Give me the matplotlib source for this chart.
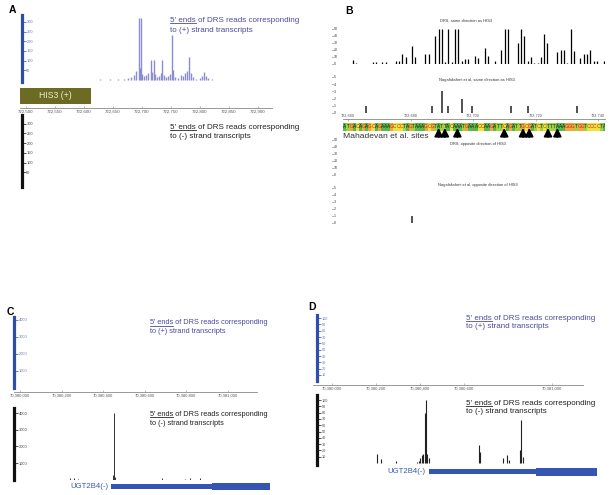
import matplotlib
matplotlib.use("Agg")
import matplotlib.pyplot as plt
from matplotlib.patches import Rectangle
from matplotlib.lines import Line2D

plt.rcParams['font.family'] = ['Liberation Sans', 'DejaVu Sans']

# ---------------- data ----------------
# A: HIS3 locus, DRS 5' end counts, (+) strand
a_pos = [722628, 722645, 722659, 722669, 722676, 722681, 722686, 722690, 722694, 722696,
         722698, 722700, 722703, 722707, 722710, 722715, 722717, 722720, 722722, 722726,
         722729, 722732, 722735, 722738, 722741, 722745, 722748, 722751, 722753, 722757,
         722762, 722767, 722771, 722774, 722778, 722781, 722784, 722788, 722793, 722800,
         722803, 722807, 722810, 722814, 722821]
a_cnt = [5, 3, 6, 8, 12, 18, 25, 45, 320, 60,
         320, 30, 20, 25, 35, 103, 40, 102, 30, 18,
         22, 35, 103, 25, 15, 20, 30, 232, 50, 15,
         10, 25, 20, 35, 45, 120, 35, 15, 8, 12,
         22, 43, 20, 10, 4]
a_ticks = [722500, 722550, 722600, 722650, 722700, 722750, 722800, 722850, 722900]
a_yticks = [50, 100, 150, 200, 250, 300]
his3_gene = (722490, 722612)

# B: zoom on HIS3 5' region
b_drs_pos = [722662, 722663, 722668, 722669, 722671, 722672, 722675, 722676, 722677, 722678,
             722680, 722681, 722684, 722685, 722687, 722688, 722689, 722690, 722691, 722692,
             722693, 722694, 722695, 722696, 722697, 722699, 722700, 722702, 722703, 722705,
             722707, 722708, 722709, 722712, 722713, 722714, 722715, 722716, 722717, 722718,
             722719, 722720, 722721, 722724, 722725, 722726, 722727, 722728, 722729, 722731,
             722732, 722733, 722734, 722735, 722736, 722738]
b_drs_cnt = [5, 1, 2, 2, 2, 2, 3, 4, 13, 10,
             25, 9, 13, 13, 40, 50, 50, 2, 50, 2,
             50, 50, 3, 6, 7, 11, 8, 22, 11, 3,
             19, 50, 50, 30, 50, 40, 3, 9, 1, 1,
             9, 42, 30, 16, 20, 20, 1, 50, 18, 8,
             13, 13, 20, 3, 4, 4]
b_nag_pos = [722666, 722686, 722689, 722691, 722695, 722698, 722710, 722715, 722730]
b_nag_cnt = [1, 1, 3, 1, 2, 1, 1, 1, 1]
b_nag_opp_pos = [722680]
b_nag_opp_cnt = [1]
b_ticks = [722660, 722680, 722700, 722720, 722740]
b_seq_start = 722659
b_seq = "ATGACAGAGCAGAAAGCCCTAGTAAAGCGTATTACAAATGAAACCAAGATTCAGATTGCGATCTCTTTAAAGGGTGGTCCCCTA"
b_sites = [722689, 722691, 722695, 722710, 722716, 722718, 722724, 722727]

# C / D: UGT2B4 locus
ugt_ticks_c = [70380000, 70380200, 70380400, 70380600, 70380800, 70381000]
ugt_ticks_d = [70380000, 70380200, 70380400, 70380600, 70381000]
ugt_gene = (70380440, 70380927, 70381205)  # start, end of thin part, end
c_pos = [70380241, 70380260, 70380280, 70380446, 70380453, 70380460, 70380684, 70380795, 70380819, 70380867]
c_cnt = [120, 90, 70, 300, 4000, 150, 90, 70, 110, 130]
c_yticks = [1000, 2000, 3000, 4000]
d_pos = [70380206, 70380222, 70380291, 70380386, 70380395, 70380400, 70380408, 70380416, 70380423,
         70380428, 70380434, 70380440, 70380669, 70380674, 70380780, 70380795, 70380806,
         70380856, 70380862, 70380868]
d_cnt = [14, 6, 3, 2, 3, 8, 12, 14, 80,
         100, 15, 8, 29, 18, 8, 12, 5,
         20, 68, 10]
d_yticks = [10, 20, 30, 40, 50, 60, 70, 80, 90, 100]

# ---------------- layout helpers ----------------
W, H = 612, 495
fig = plt.figure(figsize=(6.12, 4.95), dpi=100)

BLUE = '#2e4ea8'
PURPLE_TXT = '#4b4ba0'
LIGHT_BLUE_TXT = '#6a78bd'

# (pixel, coordinate, pixels per base) for each panel
MAP_A = (26, 722500, 0.58)
MAP_BT = (352.7, 722662, 3.3)
MAP_BS = (348, 722660, 3.125)
MAP_C = (20, 70380000, 0.2075)
MAP_D = (332, 70380000, 0.2197)


def px_axes(x0, y0, x1, y1, ref=None):
    ax = fig.add_axes([x0 / W, 1 - y1 / H, (x1 - x0) / W, (y1 - y0) / H])
    ax.patch.set_alpha(0)
    for s in ax.spines.values():
        s.set_visible(False)
    ax.set_xticks([])
    ax.set_yticks([])
    if ref is not None:
        p0, c0, k = ref
        ax.set_xlim(c0 + (x0 - p0) / k, c0 + (x1 - p0) / k)
    return ax


def count_axis(ax, ticks, bar_color, lab_color, bar=True, size=2.9, pad=-3.5):
    sp = ax.spines['left']
    sp.set_visible(bar)
    sp.set_color(bar_color)
    sp.set_linewidth(2.3)
    ax.set_yticks(ticks)
    ax.set_yticklabels([str(t) for t in ticks])
    ax.tick_params(axis='y', direction='in', length=3.2 if bar else 1.0, width=0.5,
                   color=bar_color, labelcolor=lab_color, labelsize=size, pad=pad)
    for lab in ax.get_yticklabels():
        lab.set_horizontalalignment('left')


def genome_axis(ax, ticks, size=3.2, top=False):
    sp = ax.spines['top' if top else 'bottom']
    sp.set_visible(True)
    sp.set_color('#888888')
    sp.set_linewidth(0.6)
    ax.set_xticks(ticks)
    ax.set_xticklabels([f'{t:,}' for t in ticks])
    if top:
        ax.xaxis.tick_top()
    ax.tick_params(axis='x', direction='in', length=1.5, width=0.4, color='#888888',
                   labelcolor='#555555', labelsize=size, pad=1.2)


def ends_label(x, y, strand, color, size, gap):
    r = fig.canvas.get_renderer()
    fig.text(x / W, 1 - y / H, "5' ends of DRS reads corresponding", color=color,
             fontsize=size, va='baseline')
    tmp = fig.text(x / W, 1 - y / H, "5' ends", fontsize=size, va='baseline')
    bb = tmp.get_window_extent(r)
    tmp.remove()
    fig.add_artist(Line2D([bb.x0 / W, bb.x1 / W], [(H - y - 1.3) / H] * 2, color=color, lw=0.6))
    fig.text(x / W, 1 - (y + gap) / H, f"to ({strand}) strand transcripts", color=color,
             fontsize=size, va='baseline')


def panel_letter(x, y, s):
    fig.text(x / W, 1 - y / H, s, fontsize=7.5, fontweight='bold', ha='center', va='center')


# ---------------- panel A ----------------
panel_letter(12, 10, 'A')
ax = px_axes(21.5, 15, 272, 82, MAP_A)
ax.set_ylim(-10, 335)
ax.vlines(a_pos, 0, a_cnt, color='#8c8cd0', lw=1.0)
count_axis(ax, a_yticks, BLUE, LIGHT_BLUE_TXT)
ends_label(170, 22, '+', PURPLE_TXT, 5.8, 10)

ax = px_axes(20, 86, 272, 108, MAP_A)
ax.set_ylim(0, 22)
ax.add_patch(Rectangle((his3_gene[0], 4), his3_gene[1] - his3_gene[0], 16, color='#6b6b23', lw=0))
ax.text(sum(his3_gene) / 2, 12, 'HIS3 (+)', color='#ececd4', fontsize=6.3, ha='center', va='center')
genome_axis(ax, a_ticks, size=3.2)

ax = px_axes(21.5, 115, 272, 187, MAP_A)
ax.set_ylim(-26, 345)
count_axis(ax, a_yticks, '#111111', '#444444')
ends_label(170, 129, '-', '#222222', 5.8, 9.5)

# ---------------- panel B ----------------
panel_letter(349, 11, 'B')
track_txt = dict(fontsize=2.9, color='#333333', ha='center', va='center')

ax = px_axes(332, 24, 605, 63.5, MAP_BT)
ax.set_ylim(0, 57)
ax.vlines(b_drs_pos, 0, b_drs_cnt, color='black', lw=0.9)
count_axis(ax, [0, 10, 20, 30, 40, 50], '#333333', '#333333', bar=False, size=2.6, pad=-1.5)
fig.text(466 / W, 1 - 20.7 / H, 'DRS, same direction as HIS3', **track_txt)

ax = px_axes(332, 74, 605, 113, MAP_BT)
ax.set_ylim(0, 5.4)
ax.vlines(b_nag_pos, 0, b_nag_cnt, color='#222222', lw=1.1)
count_axis(ax, [0, 1, 2, 3, 4, 5], '#333333', '#333333', bar=False, size=2.6, pad=-1.5)
fig.text(477 / W, 1 - 80 / H, 'Nagalakshmi et al, same direction as HIS3', **track_txt)

ax = px_axes(343, 119, 605, 131, MAP_BS)
ax.set_ylim(0, 12)
genome_axis(ax, b_ticks, size=2.8, top=True)
seq_bg = {'A': '#5bb846', 'T': '#9fd23e', 'C': '#f1e23a', 'G': '#f2a83c'}
seq_fg = {'A': '#1a1a1a', 'T': '#1a1a1a', 'C': '#b52a20', 'G': '#b52a20'}
for i, base in enumerate(b_seq):
    p = b_seq_start + i
    ax.add_patch(Rectangle((p - 0.5, 0), 1, 8, color=seq_bg[base], lw=0))
    ax.text(p, 4, base, fontsize=3.4, ha='center', va='center', color=seq_fg[base], clip_on=True)
for s in b_sites:
    ax.annotate('', xy=(s, 3), xytext=(s, -6),
                arrowprops=dict(arrowstyle='-|>,head_length=0.6,head_width=0.3', color='black',
                                lw=1.3, shrinkA=0, shrinkB=0, mutation_scale=8),
                annotation_clip=False)
fig.text(343 / W, 1 - 136 / H, 'Mahadevan et al. sites', fontsize=6.1, color='#333333',
         ha='left', va='center')

ax = px_axes(332, 137, 605, 175, MAP_BT)
ax.set_ylim(0, 54)
count_axis(ax, [0, 10, 20, 30, 40, 50], '#333333', '#333333', bar=False, size=2.6, pad=-1.5)
fig.text(478 / W, 1 - 144 / H, 'DRS, opposite direction of HIS3', **track_txt)

ax = px_axes(332, 185, 605, 223, MAP_BT)
ax.set_ylim(0, 5.4)
ax.vlines(b_nag_opp_pos, 0, b_nag_opp_cnt, color='#222222', lw=1.1)
count_axis(ax, [0, 1, 2, 3, 4, 5], '#333333', '#333333', bar=False, size=2.6, pad=-1.5)
fig.text(478 / W, 1 - 185 / H, 'Nagalakshmi et al. opposite direction of HIS3', **track_txt)

# ---------------- panel C ----------------
panel_letter(10, 312, 'C')
ax = px_axes(14, 317, 257, 388, MAP_C)
ax.set_ylim(0, 4176)
count_axis(ax, c_yticks, BLUE, LIGHT_BLUE_TXT)
ends_label(150, 324.5, '+', PURPLE_TXT, 5.3, 8.5)

ax = px_axes(14, 382, 257, 392, MAP_C)
genome_axis(ax, ugt_ticks_c, size=3.0)

ax = px_axes(14, 408, 257, 479.7, MAP_C)
ax.set_ylim(0, 4300)
ax.vlines(c_pos, 0, c_cnt, color='#333333', lw=0.7)
count_axis(ax, c_yticks, '#111111', '#444444')
ends_label(150, 415.7, '-', '#222222', 5.3, 9)


def gene_model(x0, x1, y, thin, thick, ref):
    ax = px_axes(x0, y - 7, x1, y + 7, ref)
    ax.set_ylim(-7, 7)
    g0, g1, g2 = ugt_gene
    ax.add_patch(Rectangle((g0, -thin / 2), g1 - g0, thin, color='#3555b5', lw=0))
    ax.add_patch(Rectangle((g1, -thick / 2), g2 - g1, thick, color='#3555b5', lw=0))
    ax.annotate('UGT2B4(-)', xy=(g0, 0), xytext=(-2, 0), textcoords='offset points',
                ha='right', va='center', fontsize=5.6, color='#3a58b0')


gene_model(14, 280, 486.5, 4.5, 7.4, MAP_C)

# ---------------- panel D ----------------
panel_letter(312, 307, 'D')
ax = px_axes(317, 315, 583, 381.3, MAP_D)
ax.set_ylim(0, 105)
count_axis(ax, d_yticks, BLUE, LIGHT_BLUE_TXT, size=2.7)
ends_label(466, 319.7, '+', PURPLE_TXT, 5.8, 8.6)

ax = px_axes(313, 375, 583, 385, MAP_D)
genome_axis(ax, ugt_ticks_d, size=3.0)

ax = px_axes(317, 395, 583, 465, MAP_D)
ax.set_ylim(-3.2, 108)
ax.vlines(d_pos, 0, d_cnt, color='#222222', lw=0.8)
count_axis(ax, d_yticks, '#111111', '#444444', size=2.7)
ends_label(466, 404.7, '-', '#222222', 5.8, 8.5)

gene_model(317, 605, 471.7, 4.7, 8, MAP_D)

fig.savefig('out.png', dpi=100)
